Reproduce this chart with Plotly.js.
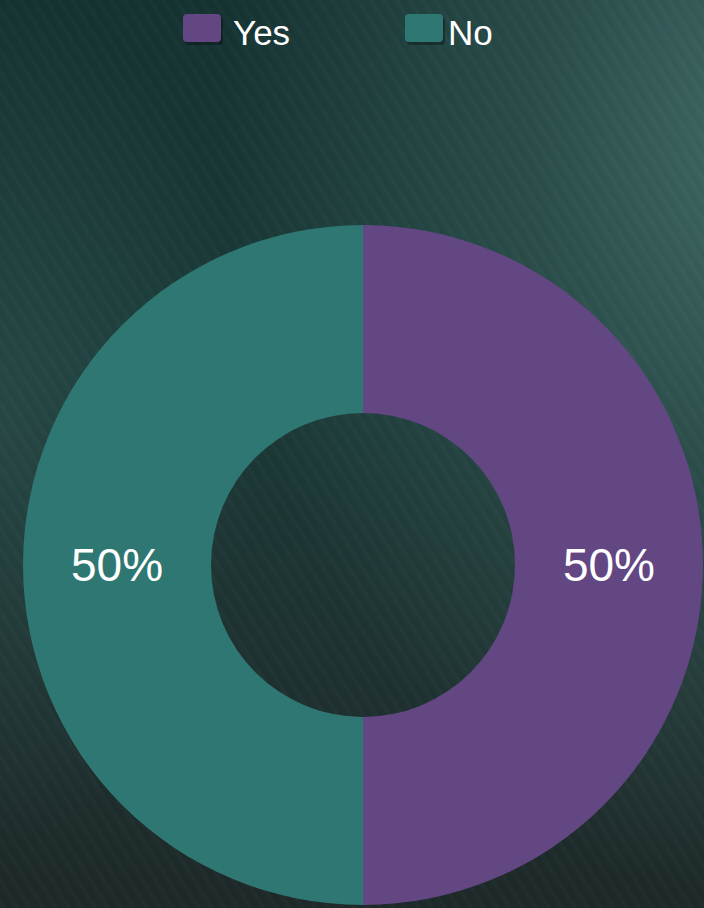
<!DOCTYPE html>
<html>
<head>
<meta charset="utf-8">
<script src="https://cdn.plot.ly/plotly-3.0.1.min.js"></script>
<style>
html, body { margin:0; padding:0; width:704px; height:908px; overflow:hidden; }
body {
  background:
    repeating-linear-gradient(58deg, rgba(255,255,255,0.00) 0px, rgba(255,255,255,0.018) 4px, rgba(0,0,0,0.03) 7px, rgba(255,255,255,0.00) 11px),
    radial-gradient(ellipse 560px 760px at 780px 140px, rgba(85,130,125,0.70) 0%, rgba(65,105,100,0.45) 45%, rgba(40,70,68,0) 100%),
    radial-gradient(ellipse 260px 420px at 0px 420px, rgba(60,100,96,0.35) 0%, rgba(40,70,68,0) 100%),
    linear-gradient(180deg, #153332 0%, #1a3a38 40%, #1e3231 72%, #1e2929 100%);
}
#chart { width:704px; height:908px; }
</style>
</head>
<body>
<div id="chart"></div>
<script>
const categories = ["Yes", "No"];
const values = [50, 50];
const colors = ["#634783", "#2f7772"];

const legendX = [183, 405];   // swatch left edges (px)
const legendTextX = [231, 446];
const W = 704, H = 908;

const shapes = [];
const annotations = [];
categories.forEach((c, i) => {
  const x0 = legendX[i], x1 = x0 + 38, y0 = 14, y1 = 42;
  const r = 4;
  const px = v => v / W, py = v => 1 - v / H;
  const rr = (a0, b0, a1, b1) =>
    `M${px(a0 + r)},${py(b0)} L${px(a1 - r)},${py(b0)} Q${px(a1)},${py(b0)} ${px(a1)},${py(b0 + r)} ` +
    `L${px(a1)},${py(b1 - r)} Q${px(a1)},${py(b1)} ${px(a1 - r)},${py(b1)} L${px(a0 + r)},${py(b1)} ` +
    `Q${px(a0)},${py(b1)} ${px(a0)},${py(b1 - r)} L${px(a0)},${py(b0 + r)} Q${px(a0)},${py(b0)} ${px(a0 + r)},${py(b0)} Z`;
  shapes.push({type: "path", xref: "paper", yref: "paper", path: rr(x0 + 2, y0 + 3, x1 + 2, y1 + 3),
    fillcolor: "rgba(0,0,0,0.3)", line: {width: 0}, layer: "above"});
  shapes.push({type: "path", xref: "paper", yref: "paper", path: rr(x0, y0, x1, y1),
    fillcolor: colors[i], line: {width: 0}, layer: "above"});
  annotations.push({xref: "paper", yref: "paper", x: legendTextX[i] / W, y: 1 - 32 / H,
    xanchor: "left", yanchor: "middle", showarrow: false, text: c,
    font: {family: "Liberation Sans, Arial, sans-serif", size: 35, color: "#ffffff"}});
});

const trace = {
  type: "pie",
  labels: categories,
  values: values,
  hole: 0.447,
  sort: false,
  direction: "clockwise",
  rotation: 0,
  marker: {colors: colors, line: {width: 0}},
  textinfo: "percent",
  textposition: "inside",
  insidetextorientation: "horizontal",
  textfont: {family: "Liberation Sans, Arial, sans-serif", size: 46, color: "#ffffff"},
  domain: {x: [23 / W, 703 / W], y: [3 / H, 683 / H]},
  showlegend: false,
  hoverinfo: "label+percent"
};

Plotly.newPlot("chart", [trace], {
  width: W, height: H,
  margin: {l: 0, r: 0, t: 0, b: 0},
  paper_bgcolor: "rgba(0,0,0,0)",
  plot_bgcolor: "rgba(0,0,0,0)",
  showlegend: false,
  shapes: shapes,
  annotations: annotations
}, {displayModeBar: false, staticPlot: true});
</script>
</body>
</html>
